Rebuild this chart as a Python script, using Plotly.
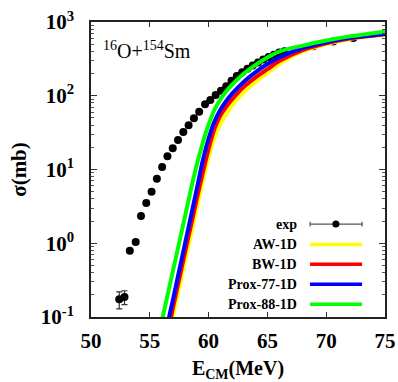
import plotly.graph_objects as go

# ---------------- data ----------------
exp_energy = [52.4, 52.85, 53.3, 53.8, 54.25, 54.7, 55.15, 55.6, 56.05, 56.5,
              56.95, 57.4, 57.85, 58.3, 58.75, 59.2, 59.7, 60.15, 60.6, 61.05,
              61.5, 61.95, 62.4, 62.85, 63.3, 63.75, 64.2, 64.65, 65.1, 65.55,
              66.0, 66.45, 68.9, 70.6, 72.3]
exp_sigma = [0.174, 0.187, 0.79, 1.04, 2.34, 3.5, 5.0, 7.5, 10.8, 15.1,
             19.4, 25.1, 32.2, 39.7, 49.4, 60.8, 76.6, 87.6, 102, 117,
             135, 160, 185, 208, 232, 258, 283, 310, 335, 360,
             385, 400, 470, 545, 605]
exp_err = [0.045, 0.04, 0.05, 0.06, 0.1, 0.15, 0.2, 0.3, 0.4, 0.5,
           0.7, 0.9, 1.1, 1.3, 1.6, 2.0, 2.5, 3, 3, 4,
           4, 5, 5, 6, 6, 7, 7, 8, 8, 9,
           9, 10, 25, 30, 30]

calc_energy = [56.0, 56.5, 57.0, 57.5, 58.0, 58.5, 59.0, 59.5, 60.0, 60.5,
               61.0, 61.5, 62.0, 63.0, 64.0, 65.0, 66.0, 68.0, 70.0, 72.0, 75.0]
sigma_aw = [0.03, 0.047, 0.11, 0.25, 0.575, 1.32, 3.0, 6.9, 14.8, 26.9,
            41.7, 56.2, 74.1, 112, 155, 204, 269, 398, 501, 589, 676]
sigma_bw = [0.04, 0.06, 0.141, 0.324, 0.76, 1.74, 4.0, 8.9, 19.0, 35.5,
            53.7, 70.8, 89, 132, 178, 229, 295, 417, 513, 596, 684]
sigma_prox77 = [0.026, 0.078, 0.182, 0.427, 1.0, 2.34, 5.5, 13.2, 26.3, 44.7,
                64.6, 85, 107, 155, 209, 269, 331, 442, 531, 610, 687]
sigma_prox88 = [0.085, 0.195, 0.447, 1.02, 2.34, 5.4, 11.7, 22.9, 40.7, 64.6,
                89, 115, 141, 200, 263, 331, 398, 479, 562, 638, 739]

model_names = ["AW-1D", "BW-1D", "Prox-77-1D", "Prox-88-1D"]
model_sigmas = [sigma_aw, sigma_bw, sigma_prox77, sigma_prox88]
model_colors = ["#FFFF00", "#FF0000", "#0000FF", "#00FF00"]

x_ticks = [50, 55, 60, 65, 70, 75]
y_tickvals = [0.1, 1, 10, 100, 1000]
y_ticktext = ["10<sup>-1</sup>", "10<sup>0</sup>", "10<sup>1</sup>", "10<sup>2</sup>", "10<sup>3</sup>"]

FONT = "Liberation Serif, Times New Roman, serif"

fig = go.Figure()

fig.add_trace(go.Scatter(
    x=exp_energy, y=exp_sigma, mode="markers", name="exp",
    marker=dict(color="black", size=8),
    error_y=dict(type="data", array=exp_err, color="#333", thickness=1.2, width=3),
    showlegend=False))

for name, sig, col in zip(model_names, model_sigmas, model_colors):
    fig.add_trace(go.Scatter(x=calc_energy, y=sig, mode="lines", name=name,
                             line=dict(color=col, width=4, shape="spline", smoothing=0.8),
                             showlegend=False))

# ---------------- manual legend (text left, sample right) ----------------
leg_names = ["exp"] + model_names
leg_y = [0.315, 0.246, 0.179, 0.111, 0.043]
x_text = 0.706
x0, x1 = 0.745, 0.922
shapes = []
annotations = []
for i, (nm, yy) in enumerate(zip(leg_names, leg_y)):
    annotations.append(dict(x=x_text, y=yy, xref="paper", yref="paper", text=nm,
                            showarrow=False, xanchor="right", yanchor="middle",
                            font=dict(family=FONT, size=14, color="black", weight="bold")))
    if i == 0:
        shapes.append(dict(type="line", xref="paper", yref="paper", x0=x0, x1=x1, y0=yy, y1=yy,
                           line=dict(color="#555", width=1.2)))
        for xc in (x0, x1):
            shapes.append(dict(type="line", xref="paper", yref="paper", x0=xc, x1=xc,
                               y0=yy - 0.008, y1=yy + 0.008, line=dict(color="#555", width=1.2)))
        shapes.append(dict(type="circle", xref="paper", yref="paper",
                           x0=0.833 - 0.012, x1=0.833 + 0.012, y0=yy - 0.012, y1=yy + 0.012,
                           fillcolor="black", line=dict(color="black", width=0)))
    else:
        shapes.append(dict(type="line", xref="paper", yref="paper", x0=x0, x1=x1, y0=yy, y1=yy,
                           line=dict(color=model_colors[i - 1], width=3.5)))

annotations.append(dict(x=0.035, y=0.905, xref="paper", yref="paper",
                        text="<sup>16</sup>O+<sup>154</sup>Sm", showarrow=False,
                        xanchor="left", yanchor="middle",
                        font=dict(family=FONT, size=20, color="black")))

fig.update_layout(
    width=398, height=382,
    margin=dict(l=91, r=13, t=22, b=65, autoexpand=False),
    paper_bgcolor="white", plot_bgcolor="white",
    font=dict(family=FONT, color="black"),
    shapes=shapes, annotations=annotations,
    showlegend=False,
)

fig.update_xaxes(
    range=[50, 75], tickvals=x_ticks, ticks="inside", ticklen=5, tickwidth=1,
    tickcolor="#333", showline=True, linecolor="#222", linewidth=1.6, mirror="ticks",
    showgrid=False, zeroline=False, ticklabelstandoff=4, automargin=False,
    tickfont=dict(family=FONT, size=21, weight="bold"),
    title=dict(text="E<sub>CM</sub>(MeV)", standoff=11,
               font=dict(family=FONT, size=20, weight="bold")),
)
fig.update_yaxes(
    type="log", range=[-1, 3], tickvals=y_tickvals, ticktext=y_ticktext,
    ticks="inside", ticklen=6, tickwidth=1, tickcolor="#333",
    minor=dict(ticks="inside", ticklen=3, dtick="D1", tickcolor="#555", showgrid=False),
    showline=True, linecolor="#222", linewidth=1.6, mirror="ticks",
    showgrid=False, zeroline=False, ticklabelstandoff=11, automargin=False,
    tickfont=dict(family=FONT, size=21, weight="bold"),
    title=dict(text="σ(mb)", standoff=8, font=dict(family=FONT, size=21, weight="bold")),
)

fig.write_html("out.html", config={"displayModeBar": False},
               post_script="document.body.style.margin='0';document.body.style.overflow='hidden';")
